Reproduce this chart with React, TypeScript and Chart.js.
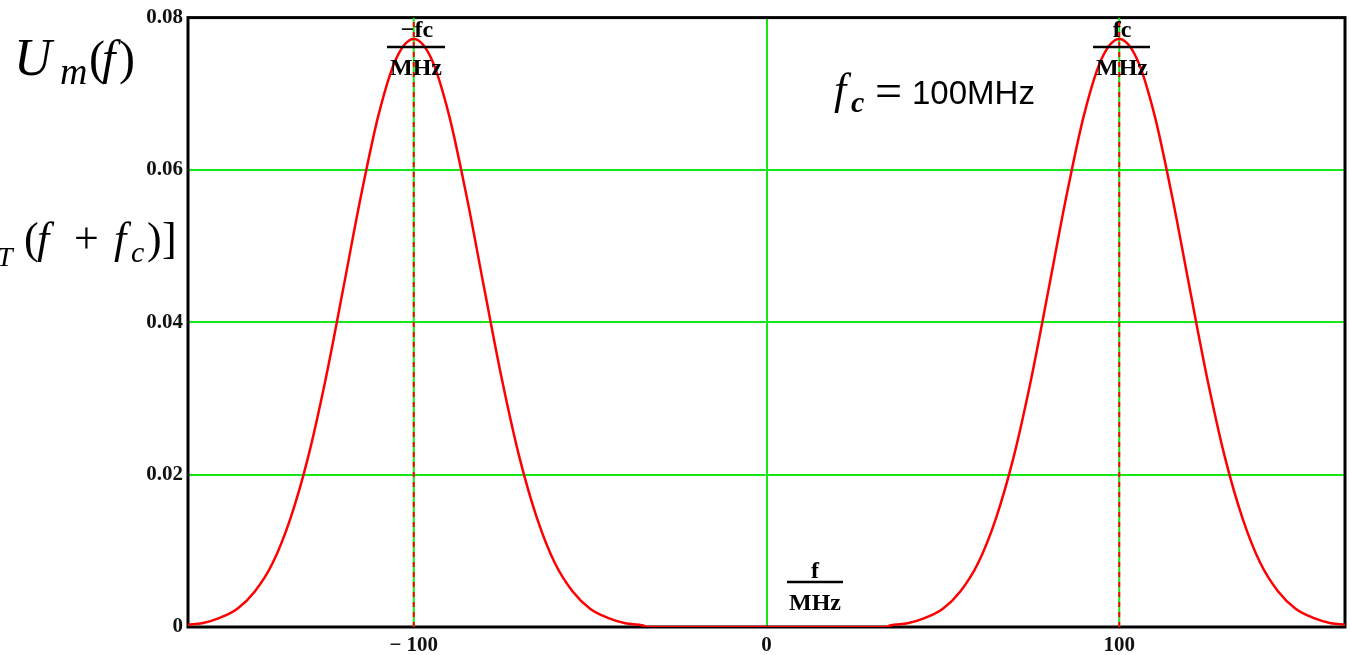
import React, { useEffect, useRef } from 'react';
import { Chart, registerables } from 'chart.js';

Chart.register(...registerables);

// Frequency axis samples (MHz) and spectrum amplitude
const freqMHz = [
  -164, -160, -155, -150, -145, -140, -135, -130, -125, -120, -115, -110, -105, -100,
  -95, -90, -85, -80, -75, -70, -65, -60, -55, -50, -45, -40, -35, -34,
  34, 35, 40, 45, 50, 55, 60, 65, 70, 75, 80, 85, 90, 95, 100,
  105, 110, 115, 120, 125, 130, 135, 140, 145, 150, 155, 160, 164,
];
const amplitude = [
  0.0003, 0.0005, 0.0012, 0.0024, 0.0047, 0.0084, 0.0142, 0.0222, 0.0325, 0.0444, 0.0565, 0.0672, 0.0746, 0.0772,
  0.0746, 0.0672, 0.0565, 0.0444, 0.0325, 0.0222, 0.0142, 0.0084, 0.0047, 0.0024, 0.0012, 0.0005, 0.0002, 0,
  0, 0.0002, 0.0005, 0.0012, 0.0024, 0.0047, 0.0084, 0.0142, 0.0222, 0.0325, 0.0444, 0.0565, 0.0672, 0.0746, 0.0772,
  0.0746, 0.0672, 0.0565, 0.0444, 0.0325, 0.0222, 0.0142, 0.0084, 0.0047, 0.0024, 0.0012, 0.0005, 0.0003,
];
const xTickValues = [-100, 0, 100];
const yTickValues = [0, 0.02, 0.04, 0.06, 0.08];
const markerFreqs = [-100, 100];
const xMin = -164;
const xMax = 164;
const yMin = 0;
const yMax = 0.08;

const GREEN = 'rgb(22, 232, 22)';
const RED = 'rgb(255, 0, 0)';
const SERIF = '"Liberation Serif", "Times New Roman", serif';
const SANS = '"Liberation Sans", Arial, sans-serif';

type Run = { t: string; x: number; y: number; font: string; align?: CanvasTextAlign };

const annotationRuns: Run[] = [
  // U_m(f)
  { t: 'U', x: 14, y: 75, font: `italic 52px ${SERIF}` },
  { t: 'm', x: 60, y: 84, font: `italic 38px ${SERIF}` },
  { t: '(', x: 89, y: 74, font: `48px ${SERIF}` },
  { t: 'f', x: 102, y: 74, font: `italic 48px ${SERIF}` },
  { t: ')', x: 119, y: 74, font: `48px ${SERIF}` },
  // ..._T(f + f_c)]
  { t: 'T', x: -3, y: 266, font: `italic 28px ${SERIF}` },
  { t: '(', x: 24, y: 253, font: `44px ${SERIF}` },
  { t: 'f', x: 37, y: 253, font: `italic 44px ${SERIF}` },
  { t: '+', x: 74, y: 253, font: `44px ${SERIF}` },
  { t: 'f', x: 114, y: 253, font: `italic 44px ${SERIF}` },
  { t: 'c', x: 131, y: 262, font: `italic 30px ${SERIF}` },
  { t: ')', x: 147, y: 253, font: `44px ${SERIF}` },
  { t: ']', x: 162, y: 253, font: `44px ${SERIF}` },
  // f_c = 100MHz
  { t: 'f', x: 834, y: 104, font: `italic 44px ${SERIF}` },
  { t: 'c', x: 851, y: 112, font: `bold italic 30px ${SERIF}` },
  { t: '=', x: 875, y: 107, font: `48px ${SERIF}` },
  { t: '100MHz', x: 912, y: 104, font: `33px ${SANS}` },
  // fraction labels
  { t: '\u2212fc', x: 417, y: 37, font: `bold 24px ${SERIF}`, align: 'center' },
  { t: 'MHz', x: 416, y: 75, font: `bold 24px ${SERIF}`, align: 'center' },
  { t: 'fc', x: 1122, y: 37, font: `bold 24px ${SERIF}`, align: 'center' },
  { t: 'MHz', x: 1122, y: 75, font: `bold 24px ${SERIF}`, align: 'center' },
  { t: 'f', x: 815, y: 578, font: `bold 24px ${SERIF}`, align: 'center' },
  { t: 'MHz', x: 815, y: 610, font: `bold 24px ${SERIF}`, align: 'center' },
];

const fractionBars = [
  { x1: 387, x2: 445, y: 47 },
  { x1: 1093, x2: 1150, y: 47 },
  { x1: 787, x2: 843, y: 582 },
];

const boxPlugin = {
  id: 'boxPlugin',
  beforeDatasetsDraw(chart: any) {
    const { ctx, chartArea } = chart;
    ctx.save();
    ctx.strokeStyle = '#000';
    ctx.lineWidth = 3;
    ctx.strokeRect(chartArea.left, chartArea.top, chartArea.right - chartArea.left, chartArea.bottom - chartArea.top);
    ctx.restore();
  },
};

const textPlugin = {
  id: 'textPlugin',
  afterDraw(chart: any) {
    const ctx = chart.ctx as CanvasRenderingContext2D;
    ctx.save();
    ctx.fillStyle = '#000';
    ctx.textBaseline = 'alphabetic';
    for (const r of annotationRuns) {
      ctx.font = r.font;
      ctx.textAlign = r.align || 'left';
      ctx.fillText(r.t, r.x, r.y);
    }
    ctx.strokeStyle = '#000';
    ctx.lineWidth = 2.5;
    for (const b of fractionBars) {
      ctx.beginPath();
      ctx.moveTo(b.x1, b.y);
      ctx.lineTo(b.x2, b.y);
      ctx.stroke();
    }
    ctx.restore();
  },
};

export default function App() {
  const ref = useRef<HTMLCanvasElement>(null);

  useEffect(() => {
    const canvas = ref.current;
    if (!canvas) return;
    const curve = freqMHz.map((f, i) => ({ x: f, y: amplitude[i] }));
    const markerDatasets: any[] = [];
    markerFreqs.forEach((f) => {
      const pts = [{ x: f, y: yMin }, { x: f, y: yMax }];
      markerDatasets.push({
        data: pts, borderColor: GREEN, borderWidth: 2, pointRadius: 0, order: 3,
      });
      markerDatasets.push({
        data: pts, borderColor: RED, borderWidth: 2, borderDash: [5, 5], pointRadius: 0, order: 1,
      });
    });

    const chart = new Chart(canvas, {
      type: 'line',
      data: {
        datasets: [
          {
            data: curve,
            borderColor: RED,
            borderWidth: 2.5,
            pointRadius: 0,
            cubicInterpolationMode: 'monotone',
            order: 2,
          } as any,
          ...markerDatasets,
        ],
      },
      options: {
        animation: false,
        responsive: false,
        layout: { padding: { left: 0, top: 15, right: 5, bottom: 0 } },
        plugins: { legend: { display: false }, tooltip: { enabled: false } },
        scales: {
          x: {
            type: 'linear',
            min: xMin,
            max: xMax,
            afterBuildTicks: (s: any) => { s.ticks = xTickValues.map((v) => ({ value: v })); },
            afterFit: (s: any) => { s.height = 28; },
            border: { display: false },
            grid: {
              drawTicks: false,
              lineWidth: 2,
              color: (c: any) => (c.tick && c.tick.value === 0 ? GREEN : 'rgba(0,0,0,0)'),
            },
            ticks: {
              padding: 6,
              color: '#111',
              font: { family: 'Liberation Serif', size: 21, weight: 'bold' },
              callback: (v: any) => (v < 0 ? '\u2212 ' + Math.abs(v) : String(v)),
            },
          },
          y: {
            type: 'linear',
            min: yMin,
            max: yMax,
            afterBuildTicks: (s: any) => { s.ticks = yTickValues.map((v) => ({ value: v })); },
            afterFit: (s: any) => { s.width = 188; },
            border: { display: false },
            grid: {
              drawTicks: false,
              lineWidth: 2,
              color: (c: any) => {
                const v = c.tick ? c.tick.value : 0;
                return v > 0.001 && v < 0.079 ? GREEN : 'rgba(0,0,0,0)';
              },
            },
            ticks: {
              padding: 5,
              color: '#111',
              font: { family: 'Liberation Serif', size: 21, weight: 'bold' },
              callback: (v: any) => (v === 0 ? '0' : Number(v).toFixed(2)),
            },
          },
        },
      } as any,
      plugins: [boxPlugin, textPlugin],
    });
    return () => chart.destroy();
  }, []);

  return (
    <div style={{ position: 'fixed', left: 0, top: 0, width: 1350, height: 655, background: '#fff' }}>
      <canvas ref={ref} width={1350} height={655} style={{ display: 'block' }} />
    </div>
  );
}
